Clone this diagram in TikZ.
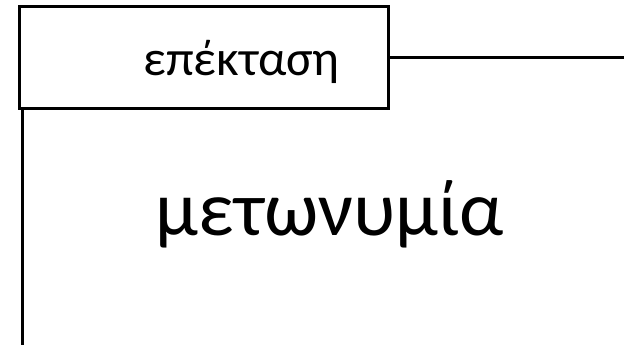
\documentclass[tikz,border=0pt]{standalone}
\usepackage{fontspec}
\setmainfont{Carlito}
\tikzset{
    labelbox/.style={draw, line width=3pt, minimum width=369pt, minimum height=101pt, inner sep=0pt},
    smallword/.style={inner sep=0pt, font=\fontsize{50}{54}\selectfont},
    bigword/.style={inner sep=0pt, font=\fontsize{78}{84}\selectfont}
}

\begin{document}
\begin{tikzpicture}[x=1pt, y=1pt]
    \useasboundingbox (0,0) rectangle (624,-345);

    % The box and its label
    \node[labelbox] (ext) at (203.5,-57.5) {};
    \node[smallword, anchor=base] (extlabel) at (241.5,-75) {επέκταση};

    % The big word
    \node[bigword, anchor=base] (met) at (330,-235) {μετωνυμία};

    % Free ends of the lines
    \coordinate (right) at (624,-57.5);
    \coordinate (bottom) at (22,-345);

    % Lines
    \draw[line width=3pt] (ext.east) -- (right);
    \draw[line width=3pt] (ext.south west -| bottom) -- (bottom);

\end{tikzpicture}
\end{document}
